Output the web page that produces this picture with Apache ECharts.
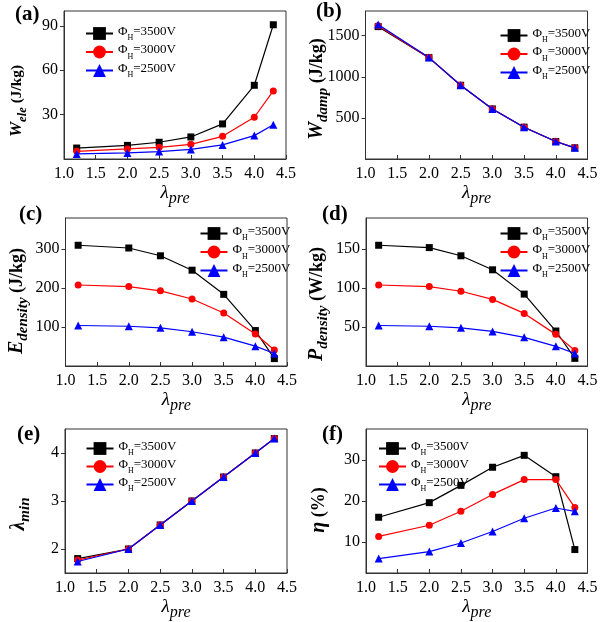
<!DOCTYPE html>
<html><head><meta charset="utf-8">
<script src="https://cdn.jsdelivr.net/npm/echarts@6/dist/echarts.min.js"></script>
<style>html,body{margin:0;padding:0;background:#fff}#c{width:602px;height:622px}</style>
</head><body><div id="c"></div>
<script>
// ---- data ----
const lambdaPre = [1.2, 2.0, 2.5, 3.0, 3.5, 4.0, 4.3];
const voltages = ['3500V', '3000V', '2500V'];
const xTicks = [1.0, 1.5, 2.0, 2.5, 3.0, 3.5, 4.0, 4.5];

// (a) W_ele (J/kg)
const wEle3500 = [7.4, 9.2, 11.3, 14.9, 23.7, 49.8, 90.7];
const wEle3000 = [5.2, 6.8, 7.9, 9.9, 15.3, 28.2, 46.0];
const wEle2500 = [3.4, 4.1, 5.0, 6.5, 9.5, 15.8, 23.2];
const wEleTicks = [30, 60, 90];

// (b) W_damp (J/kg)
const wDamp3500 = [1610, 1233, 897, 609, 387, 213, 136];
const wDamp3000 = [1620, 1233, 897, 609, 387, 213, 136];
const wDamp2500 = [1637, 1233, 897, 609, 387, 213, 136];
const wDampTicks = [500, 1000, 1500];

// (c) E_density (J/kg)
const eDen3500 = [310, 303, 283, 246, 184, 91, 19];
const eDen3000 = [208, 204, 193, 172, 136, 82, 41];
const eDen2500 = [104, 102, 98, 88, 74, 51, 32];
const eDenTicks = [100, 200, 300];

// (d) P_density (W/kg)
const pDen3500 = [155, 152, 141.5, 123.5, 92.3, 44.9, 9.8];
const pDen3000 = [104, 102, 96, 85.5, 67.5, 40.6, 20];
const pDen2500 = [52, 51, 49, 44.4, 36.8, 25.2, 16];
const pDenTicks = [50, 100, 150];

// (e) lambda_min
const lMin3500 = [1.80, 2.0, 2.5, 3.0, 3.5, 4.0, 4.3];
const lMin3000 = [1.77, 2.0, 2.5, 3.0, 3.5, 4.0, 4.3];
const lMin2500 = [1.74, 2.0, 2.5, 3.0, 3.5, 4.0, 4.3];
const lMinTicks = [2, 3, 4];

// (f) eta (%)
const eta3500 = [16.05, 19.6, 23.8, 28.2, 31.1, 25.9, 8.2];
const eta3000 = [11.4, 14.1, 17.5, 21.6, 25.2, 25.2, 18.4];
const eta2500 = [6.0, 7.7, 9.8, 12.6, 15.8, 18.3, 17.5];
const etaTicks = [10, 20, 30];

// ---- layout / style ----
const SERIF = "'Liberation Serif', 'Times New Roman', 'DejaVu Serif', serif";
const colors = ['#000000', '#ff0000', '#0000ff'];
const symbols = ['rect', 'circle', 'triangle'];

const panels = [
  { label: '(a)', lab: [15, 4], grid: [64, 11, 222, 148], y: [0, 100], yt: wEleTicks,
    yname: '{i|W}{s|ele}{n| (J/kg)}', ypos: [17, 101], fs: 0.85,
    data: [wEle3500, wEle3000, wEle2500], leg: [85, 25], lgap: 1.5 },
  { label: '(b)', lab: [316, 1], grid: [365.5, 11, 222, 148], y: [0, 1800], yt: wDampTicks,
    yname: '{i|W}{s|damp}{n| (J/kg)}', ypos: [317, 89], fs: 1,
    data: [wDamp3500, wDamp3000, wDamp2500], leg: [499.5, 27], lgap: 1.5 },
  { label: '(c)', lab: [19, 204], grid: [65.5, 218, 221.5, 148], y: [0, 380], yt: eDenTicks,
    yname: '{i|E}{s|density}{n| (J/kg)}', ypos: [17, 301], fs: 1,
    data: [eDen3500, eDen3000, eDen2500], leg: [199.5, 225], lgap: 1.5 },
  { label: '(d)', lab: [322, 204], grid: [366, 218, 221.5, 148], y: [0, 190], yt: pDenTicks,
    yname: '{i|P}{s|density}{n| (W/kg)}', ypos: [317, 304], fs: 1,
    data: [pDen3500, pDen3000, pDen2500], leg: [499.5, 225], lgap: 1.5 },
  { label: '(e)', lab: [17, 424], grid: [65, 429, 222, 147], y: [1.5, 4.5], yt: lMinTicks,
    yname: '{i|λ}{s|min}', ypos: [19, 514], fs: 1,
    data: [lMin3500, lMin3000, lMin2500], leg: [85.5, 440], lgap: 1 },
  { label: '(f)', lab: [322, 424], grid: [366, 429, 221.5, 147], y: [2.5, 37.5], yt: etaTicks,
    yname: '{i|η}{n| (%)}', ypos: [319, 510], fs: 1,
    data: [eta3500, eta3000, eta2500], leg: [378, 440], lgap: 1 }
];

const seriesNames = voltages.map(v => 'ΦH=' + v);

const option = {
  backgroundColor: '#ffffff',
  animation: false,
  textStyle: { fontFamily: SERIF },
  title: [], grid: [], xAxis: [], yAxis: [], legend: [], series: [], graphic: []
};

const axisColor = '#333333';

panels.forEach((p, i) => {
  option.title.push({
    text: p.label, left: p.lab[0], top: p.lab[1], padding: 0,
    textStyle: { fontFamily: SERIF, fontWeight: 'bold', fontSize: 21, color: '#000' }
  });
  option.grid.push({
    left: p.grid[0], top: p.grid[1], width: p.grid[2], height: p.grid[3],
    show: true, borderColor: axisColor, borderWidth: 1, backgroundColor: 'transparent'
  });
  option.xAxis.push({
    type: 'value', gridIndex: i, min: 1.0, max: 4.5,
    name: '{i|λ}{s|pre}', nameLocation: 'middle', nameGap: 24,
    nameTextStyle: {
      rich: {
        i: { fontFamily: SERIF, fontStyle: 'italic', fontSize: 19, color: '#000', verticalAlign: 'top', lineHeight: 19 },
        s: { fontFamily: SERIF, fontStyle: 'italic', fontSize: 16, color: '#000', verticalAlign: 'top', lineHeight: 16, padding: [8, 0, 0, 0] }
      }
    },
    axisLine: { show: true, lineStyle: { color: axisColor, width: 1 } },
    axisTick: { show: true, inside: true, length: 4, lineStyle: { color: axisColor }, customValues: xTicks },
    axisLabel: { customValues: xTicks, formatter: v => Number(v).toFixed(1),
      fontFamily: SERIF, fontSize: 16, color: '#000', margin: 7 },
    splitLine: { show: false }
  });
  option.yAxis.push({
    type: 'value', gridIndex: i, min: p.y[0], max: p.y[1],
    axisLine: { show: true, lineStyle: { color: axisColor, width: 1 } },
    axisTick: { show: true, inside: false, length: 4, lineStyle: { color: axisColor }, customValues: p.yt },
    axisLabel: { customValues: p.yt, formatter: v => String(v),
      fontFamily: SERIF, fontSize: 16, color: '#000', margin: 6 },
    splitLine: { show: false }
  });
  const f = p.fs;
  option.graphic.push({
    type: 'text', x: p.ypos[0], y: p.ypos[1], rotation: Math.PI / 2,
    style: {
      text: p.yname, align: 'center', verticalAlign: 'middle',
      rich: {
        i: { fontFamily: SERIF, fontStyle: 'italic', fontWeight: 'bold', fontSize: 20 * f, fill: '#000', verticalAlign: 'top', lineHeight: 20 * f },
        s: { fontFamily: SERIF, fontStyle: 'italic', fontWeight: 'bold', fontSize: 15 * f, fill: '#000', verticalAlign: 'top', lineHeight: 15 * f, padding: [9 * f, 0, 0, 0] },
        n: { fontFamily: SERIF, fontWeight: 'bold', fontSize: 18 * f, fill: '#000', verticalAlign: 'top', lineHeight: 20 * f, padding: [1, 0, 0, 0] }
      }
    }
  });
  option.legend.push({
    orient: 'vertical', left: p.leg[0], top: p.leg[1], padding: 0,
    itemWidth: 27, itemHeight: 16, itemGap: p.lgap,
    data: seriesNames, selectedMode: false,
    formatter: n => '{t|Φ}{s|H}{t|=' + n.split('=')[1] + '}',
    textStyle: {
      rich: {
        t: { fontFamily: SERIF, fontSize: 13, color: '#000', verticalAlign: 'top', lineHeight: 17 },
        s: { fontFamily: SERIF, fontSize: 8, color: '#000', verticalAlign: 'top', lineHeight: 8, padding: [9, 0, 0, 0] }
      }
    }
  });
  p.data.forEach((vals, k) => {
    option.series.push({
      type: 'line', name: seriesNames[k], xAxisIndex: i, yAxisIndex: i,
      data: lambdaPre.map((x, j) => [x, vals[j]]),
      symbol: symbols[k], symbolSize: k === 2 ? 8 : 7, showAllSymbol: true,
      itemStyle: { color: colors[k] },
      lineStyle: { color: colors[k], width: 1.2 },
      z: 2 + k
    });
  });
});

const chart = echarts.init(document.getElementById('c'), null, { renderer: 'canvas' });
chart.setOption(option);
</script>
</body></html>
